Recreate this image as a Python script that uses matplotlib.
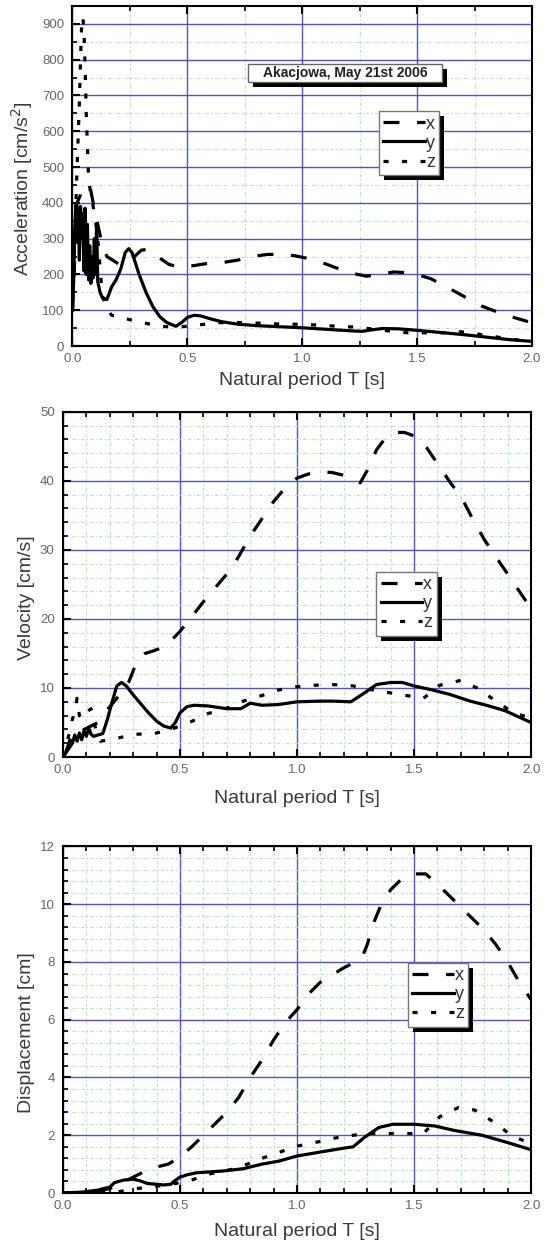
import matplotlib
matplotlib.use("Agg")
import matplotlib.pyplot as plt
from matplotlib.lines import Line2D
from matplotlib.patches import Rectangle
from matplotlib.ticker import MultipleLocator, FormatStrFormatter
from matplotlib.transforms import IdentityTransform

plt.rcParams['font.family'] = ['Liberation Sans', 'DejaVu Sans']

# --- acceleration spectra [cm/s^2] ---
acc_t_x = [0, 0.01, 0.02, 0.04, 0.06, 0.075, 0.09, 0.11, 0.13, 0.15, 0.18, 0.21, 0.24, 0.27, 0.3, 0.33,
           0.37, 0.42, 0.47, 0.52, 0.58, 0.65, 0.72, 0.78, 0.85, 0.92, 0.97, 1.03, 1.1, 1.17, 1.22,
           1.28, 1.33, 1.4, 1.45, 1.5, 1.56, 1.62, 1.7, 1.78, 1.85, 1.92, 2.0]
acc_x = [100, 250, 400, 430, 445, 450, 400, 340, 280, 250, 238, 225, 232, 250, 268, 270,
         250, 228, 220, 224, 230, 233, 240, 250, 256, 256, 252, 244, 230, 213, 203,
         195, 200, 207, 205, 200, 188, 168, 140, 112, 95, 80, 65]

acc_t_y = [0, 0.005, 0.01, 0.015, 0.02, 0.025, 0.03, 0.035, 0.04, 0.045, 0.05, 0.055, 0.06, 0.065,
           0.07, 0.075, 0.08, 0.085, 0.09, 0.095, 0.1, 0.105, 0.11, 0.12, 0.13, 0.15, 0.17, 0.19,
           0.21, 0.23, 0.245, 0.26, 0.29, 0.32, 0.35, 0.38, 0.41, 0.45, 0.48, 0.5, 0.53, 0.56, 0.6,
           0.65, 0.72, 0.8, 0.9, 1.0, 1.1, 1.2, 1.26, 1.3, 1.35, 1.42, 1.5, 1.6, 1.7, 1.8, 1.9, 2.0]
acc_y = [100, 180, 330, 395, 290, 385, 240, 390, 300, 370, 210, 385, 200, 340,
         185, 280, 175, 250, 190, 300, 200, 340, 180, 150, 135, 130, 165, 185,
         215, 262, 272, 260, 200, 150, 110, 82, 66, 55, 68, 80, 86, 84, 76,
         68, 61, 57, 54, 51, 47, 43, 41, 45, 49, 48, 44, 38, 32, 25, 18, 13]

acc_t_z = [0, 0.01, 0.02, 0.03, 0.035, 0.04, 0.045, 0.05, 0.055, 0.06, 0.065, 0.07, 0.08, 0.09,
           0.1, 0.11, 0.12, 0.13, 0.15, 0.17, 0.2, 0.23, 0.27, 0.31, 0.38, 0.46, 0.54, 0.62, 0.7,
           0.77, 0.85, 0.92, 1.0, 1.08, 1.16, 1.23, 1.3, 1.38, 1.46, 1.53, 1.61, 1.69, 1.77, 1.85,
           1.92, 2.0]
acc_z = [100, 300, 500, 680, 800, 900, 920, 880, 780, 650, 560, 470, 420, 390,
         350, 300, 220, 140, 105, 86, 80, 77, 70, 65, 55, 53, 58, 65, 66,
         65, 63, 61, 61, 58, 55, 53, 48, 42, 37, 37, 37, 40, 33, 25,
         18, 14]

# --- velocity spectra [cm/s] ---
vel_t_x = [0, 0.03, 0.06, 0.09, 0.12, 0.15, 0.18, 0.2, 0.23, 0.26, 0.28, 0.3, 0.32, 0.35, 0.38,
           0.42, 0.46, 0.5, 0.55, 0.6, 0.65, 0.7, 0.75, 0.8, 0.85, 0.9, 0.95, 1.0, 1.05, 1.1,
           1.15, 1.2, 1.24, 1.27, 1.3, 1.34, 1.38, 1.42, 1.46, 1.5, 1.54, 1.58, 1.62, 1.66,
           1.7, 1.75, 1.8, 1.85, 1.9, 1.95, 2.0]
vel_x = [0, 1.5, 3.0, 4.0, 4.5, 5.0, 6.5, 7.3, 8.5, 9.8, 10.8, 12.5, 14.2, 15.0, 15.3,
         15.8, 16.8, 18.2, 20.3, 22.5, 24.5, 26.5, 29.0, 32.0, 34.5, 37.0, 39.0, 40.4, 41.0, 41.3,
         41.2, 40.8, 40.3, 39.7, 41.5, 44.5, 46.3, 47.0, 47.0, 46.5, 45.5, 43.5, 41.5, 39.5,
         37.8, 34.5, 31.5, 29.0, 26.5, 24.0, 21.5]

vel_t_y = [0, 0.01, 0.02, 0.03, 0.04, 0.05, 0.06, 0.07, 0.08, 0.09, 0.1, 0.11, 0.12, 0.13, 0.15,
           0.17, 0.19, 0.21, 0.23, 0.25, 0.27, 0.3, 0.33, 0.36, 0.4, 0.43, 0.46, 0.48, 0.5, 0.53,
           0.56, 0.62, 0.7, 0.76, 0.8, 0.85, 0.92, 1.0, 1.1, 1.15, 1.23, 1.28, 1.34, 1.4, 1.45,
           1.5, 1.58, 1.65, 1.74, 1.82, 1.89, 2.0]
vel_y = [0, 0.5, 1.5, 2.5, 2.0, 3.2, 2.3, 3.5, 2.5, 3.8, 3.0, 4.2, 3.3, 3.0, 3.2,
         3.4, 5.5, 8.0, 10.3, 10.8, 10.3, 9.0, 7.8, 6.6, 5.2, 4.5, 4.2, 5.0, 6.4, 7.3,
         7.5, 7.4, 7.0, 7.0, 7.8, 7.5, 7.6, 8.0, 8.1, 8.1, 8.0, 9.1, 10.5, 10.8, 10.8,
         10.3, 9.7, 9.1, 8.1, 7.4, 6.7, 5.0]

vel_t_z = [0, 0.02, 0.04, 0.05, 0.06, 0.07, 0.08, 0.1, 0.12, 0.14, 0.16, 0.2, 0.24, 0.31, 0.39,
           0.46, 0.54, 0.62, 0.7, 0.77, 0.85, 0.92, 1.0, 1.08, 1.15, 1.24, 1.31, 1.38, 1.47,
           1.54, 1.61, 1.7, 1.77, 1.85, 1.93, 2.0]
vel_z = [0, 2.5, 5.5, 6.5, 8.5, 6.0, 5.5, 6.5, 7.0, 4.0, 2.3, 2.5, 2.8, 3.3, 3.4,
         4.0, 5.0, 6.3, 7.1, 8.1, 8.9, 9.7, 10.2, 10.4, 10.5, 10.3, 9.8, 9.4, 8.9,
         8.5, 10.4, 11.1, 10.0, 8.1, 6.3, 5.7]

# --- displacement spectra [cm] ---
dis_t_x = [0, 0.1, 0.2, 0.25, 0.3, 0.35, 0.4, 0.45, 0.5, 0.55, 0.6, 0.65, 0.7, 0.75, 0.8, 0.85,
           0.9, 0.95, 1.0, 1.05, 1.1, 1.15, 1.2, 1.25, 1.28, 1.3, 1.33, 1.36, 1.4, 1.45, 1.5,
           1.55, 1.6, 1.65, 1.7, 1.75, 1.8, 1.85, 1.9, 1.95, 2.0]
dis_x = [0, 0.02, 0.15, 0.35, 0.55, 0.75, 0.9, 1.0, 1.25, 1.6, 2.0, 2.4, 2.8, 3.3, 4.0, 4.6,
         5.3, 5.9, 6.35, 6.9, 7.3, 7.55, 7.8, 8.0, 8.2, 8.6, 9.4, 10.0, 10.5, 10.9, 11.05,
         11.05, 10.7, 10.3, 9.9, 9.5, 9.1, 8.6, 8.0, 7.3, 6.7]

dis_t_y = [0, 0.08, 0.15, 0.17, 0.2, 0.22, 0.26, 0.3, 0.33, 0.36, 0.4, 0.43, 0.46, 0.48, 0.5,
           0.53, 0.57, 0.68, 0.77, 0.85, 0.92, 1.0, 1.1, 1.19, 1.24, 1.29, 1.35, 1.41, 1.5,
           1.59, 1.67, 1.79, 1.89, 2.0]
dis_y = [0, 0.03, 0.1, 0.15, 0.2, 0.36, 0.45, 0.48, 0.42, 0.33, 0.3, 0.28, 0.3, 0.44, 0.55,
         0.63, 0.7, 0.76, 0.84, 1.0, 1.1, 1.28, 1.42, 1.54, 1.6, 1.94, 2.27, 2.38, 2.38,
         2.32, 2.17, 2.0, 1.77, 1.5]

dis_t_z = [0, 0.1, 0.2, 0.24, 0.31, 0.39, 0.46, 0.54, 0.62, 0.74, 0.85, 0.92, 1.0, 1.09, 1.16,
           1.24, 1.31, 1.38, 1.46, 1.54, 1.61, 1.69, 1.76, 1.84, 1.92, 2.0]
dis_z = [0, 0.0, 0.02, 0.05, 0.15, 0.22, 0.3, 0.42, 0.65, 0.85, 1.2, 1.4, 1.62, 1.77, 1.9,
         2.0, 2.06, 2.06, 2.06, 2.06, 2.64, 2.96, 2.87, 2.46, 1.97, 1.71]

LW = 2.3
STYLE_X = dict(color='black', lw=LW, dashes=(5, 5.5))
STYLE_Y = dict(color='black', lw=LW, linestyle='-')
STYLE_Z = dict(color='black', lw=LW, dashes=(1.6, 4.2))

fig = plt.figure(figsize=(5.47, 12.47), dpi=100)

panels = [
    # rect, ylabel, ylim, y major, y minor, x minor, ylabel x, xlabel y, legend anchor
    ([0.1325, 0.7225, 0.840, 0.2727], 'Acceleration [cm/s$^2$]', 950, 100, 50, 0.25,
     -0.082, -0.0765, (0.667, 0.691),
     (acc_t_x, acc_x), (acc_t_y, acc_y), (acc_t_z, acc_z)),
    ([0.1152, 0.3929, 0.8556, 0.2769], 'Velocity [cm/s]', 50, 10, 2, 0.1,
     -0.06, -0.0956, (0.669, 0.537),
     (vel_t_x, vel_x), (vel_t_y, vel_y), (vel_t_z, vel_z)),
    ([0.1152, 0.0433, 0.8556, 0.2779], 'Displacement [cm]', 12, 2, 0.4, 0.1,
     -0.06, -0.0866, (0.737, 0.665),
     (dis_t_x, dis_x), (dis_t_y, dis_y), (dis_t_z, dis_z)),
]

legends = []
for rect, ylab, ytop, ymaj, ymin, xmin, ylab_x, xlab_y, anchor, sx, sy, sz in panels:
    ax = fig.add_axes(rect)
    ax.set_xlim(0, 2.0)
    ax.set_ylim(0, ytop)
    ax.xaxis.set_major_locator(MultipleLocator(0.5))
    ax.xaxis.set_minor_locator(MultipleLocator(xmin))
    ax.yaxis.set_major_locator(MultipleLocator(ymaj))
    ax.yaxis.set_minor_locator(MultipleLocator(ymin))
    ax.xaxis.set_major_formatter(FormatStrFormatter('%.1f'))
    ax.yaxis.set_major_formatter(FormatStrFormatter('%d'))

    ax.grid(which='minor', color='#b3e6b3', lw=0.8, linestyle=(0, (3, 2, 1, 2)))
    ax.grid(which='major', color='#5252cc', lw=1.0)
    ax.set_axisbelow(True)

    for s in ax.spines.values():
        s.set_linewidth(1.5)
    ax.tick_params(which='both', direction='in', top=True, bottom=True, left=True, right=False,
                   labelsize=9.5, labelcolor='#666666')
    ax.tick_params(which='major', length=6, width=1.5)
    ax.tick_params(which='minor', length=3.5, width=1.2)
    ax.tick_params(axis='x', which='major', pad=5)
    ax.tick_params(axis='y', which='major', pad=6)

    ax.plot(*sx, **STYLE_X)
    ax.plot(*sy, **STYLE_Y)
    ax.plot(*sz, **STYLE_Z)

    ax.set_ylabel(ylab, fontsize=14, color='#3a3a3a')
    ax.yaxis.set_label_coords(ylab_x, 0.462)
    ax.set_xlabel('Natural period T [s]', fontsize=14, color='#3a3a3a')
    ax.xaxis.set_label_coords(0.5, xlab_y)

    handles = [Line2D([], [], **STYLE_X), Line2D([], [], **STYLE_Y), Line2D([], [], **STYLE_Z)]
    leg = ax.legend(handles, ['x', 'y', 'z'], loc='upper left', bbox_to_anchor=anchor,
                    fontsize=13, handlelength=2.3, handletextpad=0.05, labelspacing=0.12,
                    borderpad=0.25, borderaxespad=0, fancybox=False, framealpha=1,
                    edgecolor='#777777', labelcolor='#333333')
    leg.get_frame().set_linewidth(1.0)
    legends.append((ax, leg))

# event label on the acceleration panel
ax1 = legends[0][0]
ax1.add_patch(Rectangle((0.393, 0.7625), 0.422, 0.051, transform=ax1.transAxes,
                        fc='black', ec='none', zorder=5.5))
ax1.add_patch(Rectangle((0.382, 0.777), 0.422, 0.051, transform=ax1.transAxes,
                        fc='white', ec='#666666', lw=1.0, zorder=5.6))
ax1.text(0.593, 0.803, 'Akacjowa, May 21st 2006', transform=ax1.transAxes, ha='center',
         va='center', fontsize=10, fontweight='bold', color='#222222', zorder=5.7)

# black drop shadow behind each legend box
fig.canvas.draw()
for ax, leg in legends:
    bb = leg.get_window_extent()
    ax.add_patch(Rectangle((bb.x0 + 5, bb.y0 - 5), bb.width, bb.height, transform=IdentityTransform(),
                           fc='black', ec='none', zorder=4.5, clip_on=False))

fig.savefig('out.png', dpi=100)
